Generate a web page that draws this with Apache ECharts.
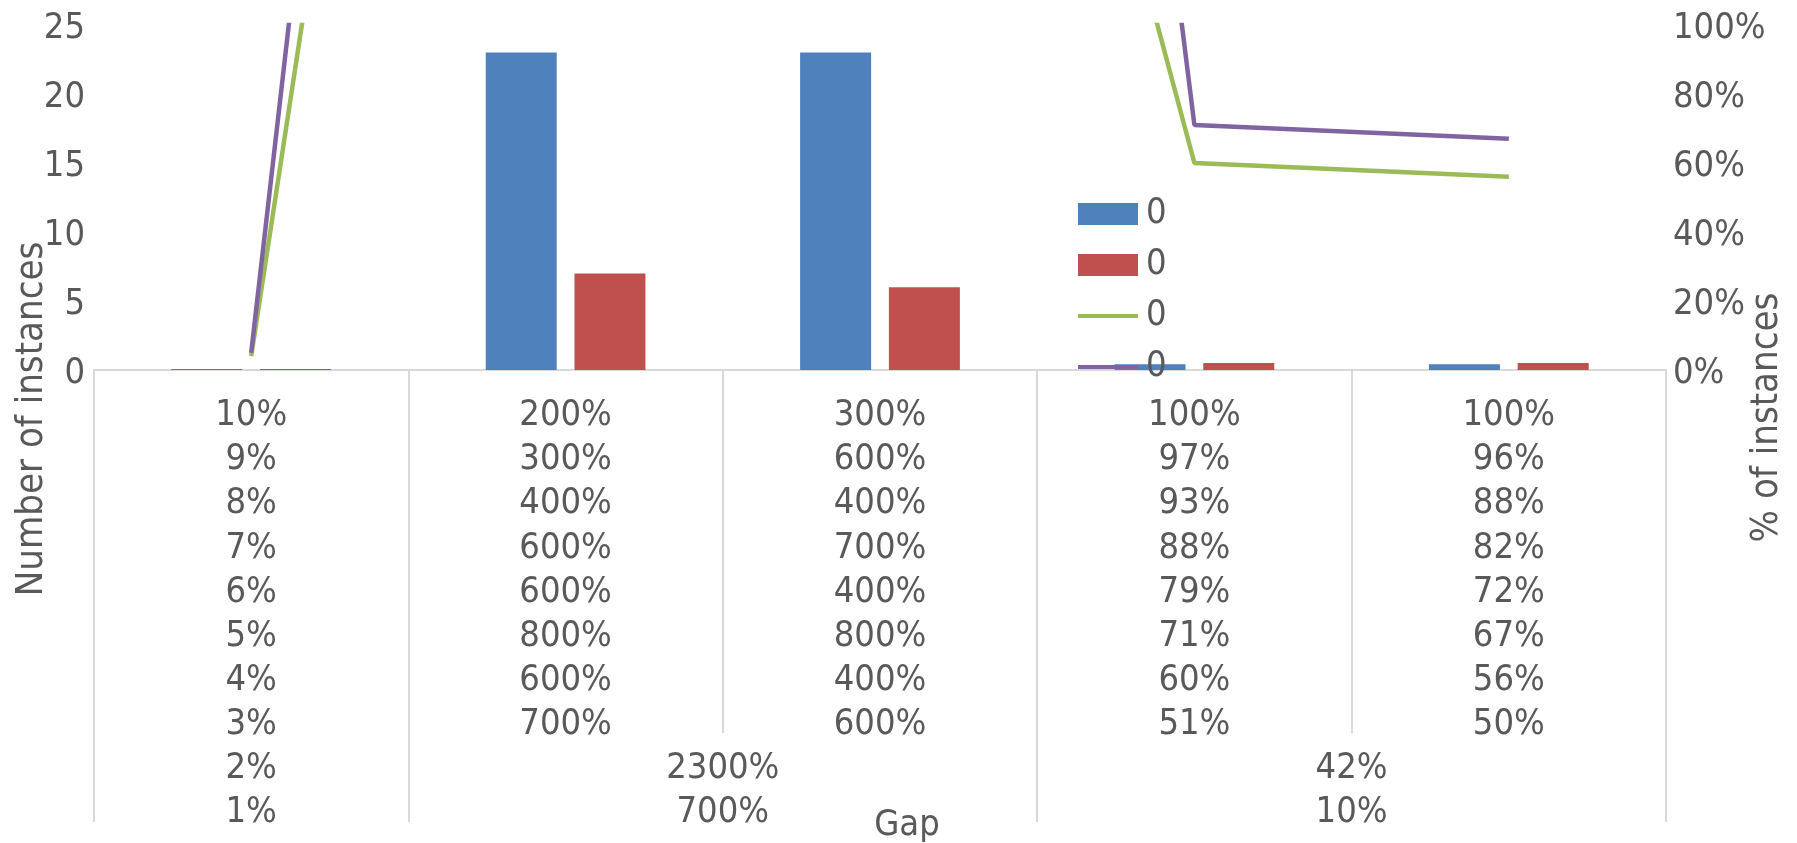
<!DOCTYPE html>
<html>
<head>
<meta charset="utf-8">
<script src="https://cdn.jsdelivr.net/npm/echarts@6/dist/echarts.min.js"></script>
<style>
  html, body { margin: 0; padding: 0; background: #ffffff; }
  #chart { width: 1797px; height: 843px; }
</style>
</head>
<body>
<div id="chart"></div>
<script>
// Inner level of the category axis: eight label rows per category
const categoryRows = [
  ['10%', '9%', '8%', '7%', '6%', '5%', '4%', '3%'],
  ['200%', '300%', '400%', '600%', '600%', '800%', '600%', '700%'],
  ['300%', '600%', '400%', '700%', '400%', '800%', '400%', '600%'],
  ['100%', '97%', '93%', '88%', '79%', '71%', '60%', '51%'],
  ['100%', '96%', '88%', '82%', '72%', '67%', '56%', '50%']
];

// Outer level of the category axis: groups spanning [from, to) categories
const groupSpans = [[0, 1], [1, 3], [3, 5]];
const groupRows = [
  ['2%', '1%'],
  ['2300%', '700%'],
  ['42%', '10%']
];

// Bar series (left axis, number of instances)
const blueBars = [0.02, 23, 23, 0.42, 0.42];
const redBars = [0.03, 7, 6, 0.51, 0.50];

// Line series (right axis, share of instances)
const greenLine = [0.04, 6, 4, 0.60, 0.56];
const purpleLine = [0.05, 8, 8, 0.71, 0.67];

const legendLabels = ['0', '0', '0', '0'];
const seriesNames = ['Instances A', 'Instances B', 'Share A', 'Share B'];

const leftTicks = { min: 0, max: 25, interval: 5 };
const rightTicks = { min: 0, max: 1, interval: 0.2 };

const FONT = 'DejaVu Sans Condensed';
const TEXT = '#595959';
const RULE = '#D9D9D9';
const FS = 36;
const TITLE_FS = 38;

const categories = categoryRows.map(r => r.join('\n'));
const groupCenters = groupSpans.map(s => (s[0] + s[1]) / 2);
const groupEdges = [...new Set(groupSpans.flat())];

// Value-axis tick text, nudged down so the digits sit centred on the tick
const tickRich = {
  v: { fontFamily: FONT, fontSize: FS, color: TEXT, padding: [7, 0, 0, 0] }
};

const chart = echarts.init(document.getElementById('chart'), null, { renderer: 'canvas' });

// Legend entry for a line series: plain stroke, no marker
const lineLegendItem = name => ({
  name,
  itemStyle: { opacity: 0, color: 'rgba(0,0,0,0)', borderWidth: 0 },
  lineStyle: { width: 4 }
});

chart.setOption({
  animation: false,
  backgroundColor: '#ffffff',
  textStyle: { fontFamily: FONT, color: TEXT },
  grid: { left: 94, right: 131, top: 25, bottom: 473, outerBoundsMode: 'none', containLabel: false },
  legend: {
    orient: 'vertical',
    left: 1076,
    top: 196,
    padding: 0,
    itemWidth: 60,
    itemHeight: 22,
    itemGap: 15,
    selectedMode: false,
    formatter: name => legendLabels[seriesNames.indexOf(name)],
    textStyle: { fontFamily: FONT, fontSize: FS, color: TEXT, padding: [0, 0, 0, 3] },
    data: [
      { name: seriesNames[0], icon: 'rect' },
      { name: seriesNames[1], icon: 'rect' },
      lineLegendItem(seriesNames[2]),
      lineLegendItem(seriesNames[3])
    ]
  },
  xAxis: [
    {
      type: 'category',
      position: 'bottom',
      data: categories,
      axisLine: { show: true, lineStyle: { color: RULE, width: 2 } },
      axisTick: { show: true, length: 363, lineStyle: { color: RULE, width: 2 } },
      axisLabel: {
        interval: 0,
        margin: 23.5,
        fontFamily: FONT,
        fontSize: FS,
        lineHeight: 44.2,
        color: TEXT
      },
      splitLine: { show: false }
    },
    {
      type: 'value',
      position: 'bottom',
      min: 0,
      max: categoryRows.length,
      axisLine: { show: false },
      axisTick: {
        show: true,
        customValues: groupEdges,
        length: 452,
        lineStyle: { color: RULE, width: 2 }
      },
      axisLabel: {
        show: true,
        customValues: groupCenters,
        margin: 376.5,
        fontFamily: FONT,
        fontSize: FS,
        lineHeight: 44,
        color: TEXT,
        formatter: v => {
          const i = groupCenters.findIndex(c => Math.abs(c - v) < 1e-6);
          return i >= 0 ? groupRows[i].join('\n') : '';
        }
      },
      splitLine: { show: false }
    }
  ],
  yAxis: [
    {
      type: 'value',
      position: 'left',
      min: leftTicks.min,
      max: leftTicks.max,
      interval: leftTicks.interval,
      axisLine: { show: false },
      axisTick: { show: false },
      splitLine: { show: false },
      axisLabel: {
        margin: 9,
        formatter: v => '{v|' + v + '}',
        rich: tickRich
      }
    },
    {
      type: 'value',
      position: 'right',
      min: rightTicks.min,
      max: rightTicks.max,
      interval: rightTicks.interval,
      axisLine: { show: false },
      axisTick: { show: false },
      splitLine: { show: false },
      axisLabel: {
        margin: 7,
        formatter: v => '{v|' + Math.round(v * 100) + '%}',
        rich: tickRich
      }
    }
  ],
  series: [
    {
      name: seriesNames[0],
      type: 'bar',
      xAxisIndex: 0,
      yAxisIndex: 0,
      data: blueBars,
      barWidth: 71,
      barGap: '25%',
      barMinHeight: 1,
      itemStyle: { color: '#4F81BD' }
    },
    {
      name: seriesNames[1],
      type: 'bar',
      xAxisIndex: 0,
      yAxisIndex: 0,
      data: redBars,
      barWidth: 71,
      barGap: '25%',
      barMinHeight: 1,
      itemStyle: { color: '#C0504D' }
    },
    {
      name: seriesNames[2],
      type: 'line',
      xAxisIndex: 0,
      yAxisIndex: 1,
      data: greenLine,
      symbol: 'none',
      lineStyle: { color: '#9BBB59', width: 4.5 },
      itemStyle: { color: '#9BBB59' }
    },
    {
      name: seriesNames[3],
      type: 'line',
      xAxisIndex: 0,
      yAxisIndex: 1,
      data: purpleLine,
      symbol: 'none',
      lineStyle: { color: '#8064A2', width: 4.5 },
      itemStyle: { color: '#8064A2' }
    }
  ],
  graphic: [
    {
      type: 'text',
      x: 32,
      y: 419,
      rotation: Math.PI / 2,
      style: {
        text: 'Number of instances',
        font: TITLE_FS + 'px "' + FONT + '"',
        fill: TEXT,
        align: 'center',
        verticalAlign: 'middle'
      }
    },
    {
      type: 'text',
      x: 1767,
      y: 417.5,
      rotation: Math.PI / 2,
      style: {
        text: '% of instances',
        font: TITLE_FS + 'px "' + FONT + '"',
        fill: TEXT,
        align: 'center',
        verticalAlign: 'middle'
      }
    },
    {
      type: 'text',
      x: 907,
      y: 826,
      style: {
        text: 'Gap',
        font: FS + 'px "' + FONT + '"',
        fill: TEXT,
        align: 'center',
        verticalAlign: 'middle'
      }
    }
  ]
});
</script>
</body>
</html>
